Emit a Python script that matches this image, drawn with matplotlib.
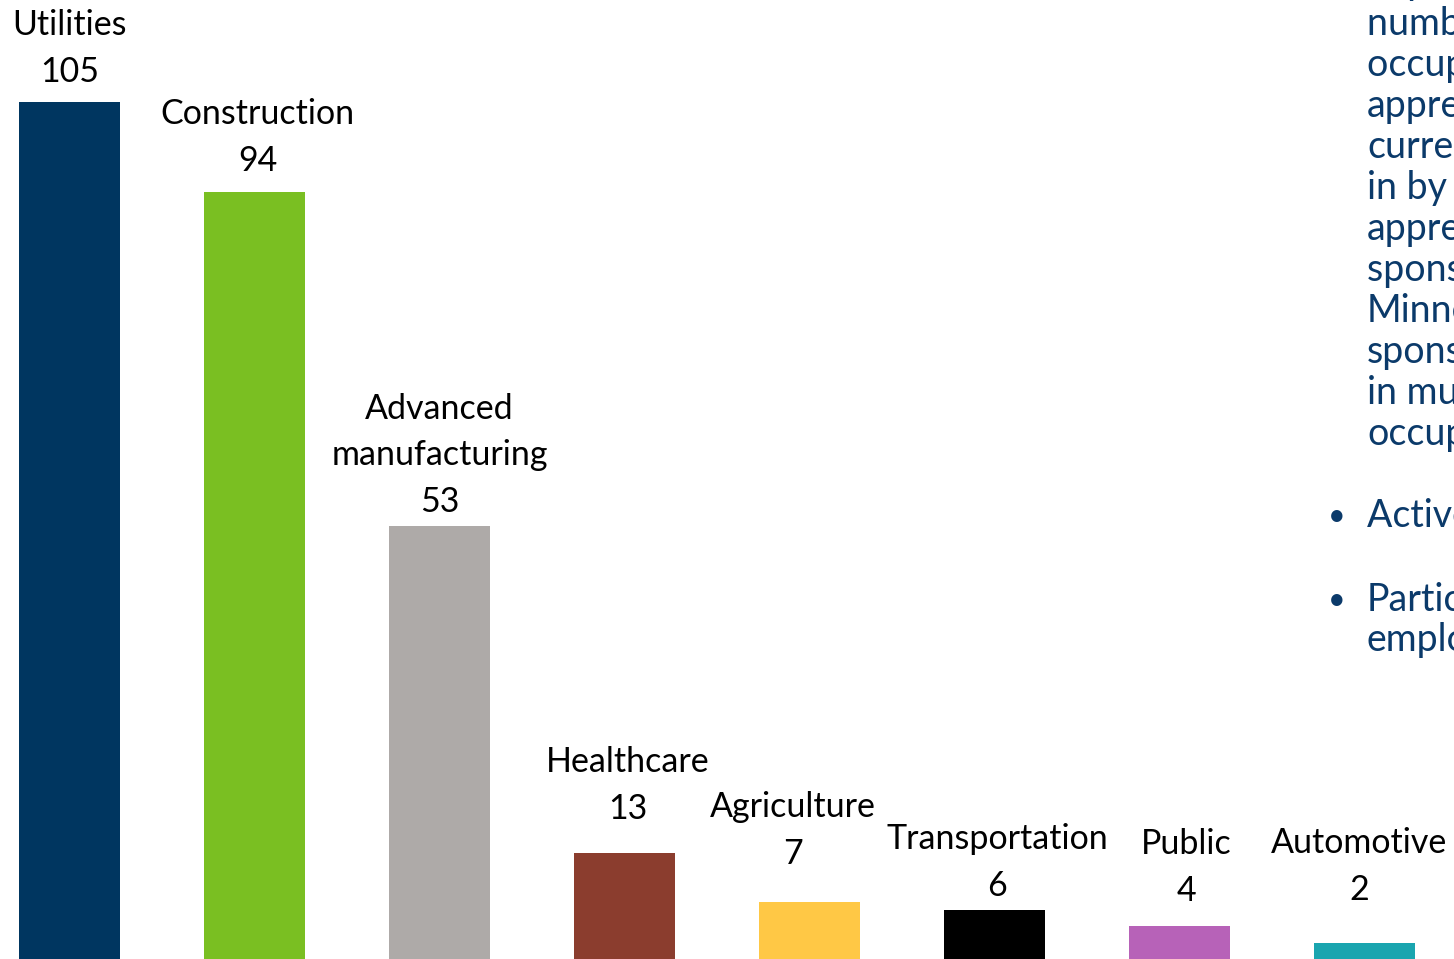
import matplotlib.pyplot as plt

plt.rcParams['font.family'] = ['Lato', 'DejaVu Sans']

# registered apprenticeship programs by industry
industries = ['Utilities', 'Construction', 'Advanced\nmanufacturing', 'Healthcare',
              'Agriculture', 'Transportation', 'Public', 'Automotive']
programs = [105, 94, 53, 13, 7, 6, 4, 2]
bar_colors = ['#003660', '#7abf22', '#aeaaa8', '#8b3d2e',
              '#ffc845', '#000000', '#b762b8', '#1aa5af']

# label nudges (pixels): x shift, height of the value line above the bar
label_dx = [0, 3, 0, 3, -17, 3, 7, -5]
label_dy = [33, 34, 27, 47, 51, 27, 38, 56]

side_lines = ['Expanded the', 'number of', 'occupations for', 'apprentices', 'currently',
              'in by the', 'apprenticeship', 'sponsors across', 'Minnesota', 'sponsors',
              'in multiple', 'occupations']
side_bullets = [['Active apprentices'], ['Participating', 'employers']]

fig = plt.figure(figsize=(14.54, 9.59), dpi=100)
ax = fig.add_axes([0, 0, 1, 1])

x = range(len(industries))
ax.bar(x, programs, width=0.546, color=bar_colors)
ax.set_xlim(-0.3757, 7.4838)
ax.set_ylim(0, 117.5)
ax.axis('off')

fs = 24.5
for i, (name, val) in enumerate(zip(industries, programs)):
    ax.annotate(str(val), xy=(i, val), xytext=(label_dx[i], label_dy[i] - 3),
                textcoords='offset pixels', ha='center', va='center',
                fontsize=fs, color='black')
    ax.annotate(name, xy=(i, val), xytext=(label_dx[i], label_dy[i] + 28),
                textcoords='offset pixels', ha='center', va='bottom',
                fontsize=fs, color='black', linespacing=1.55)

# bulleted notes running off the right edge
navy = '#0b3a6a'
side_fs = 27
line_h = 41
y0 = 959 + 17
for k, line in enumerate(side_lines):
    fig.text(1367 / 1454, (y0 - k * line_h) / 959, line, ha='left', va='center',
             fontsize=side_fs, color=navy)
bullet_y = [516, 600]
for by, bullet in zip(bullet_y, side_bullets):
    fig.text(1337 / 1454, (959 - by) / 959, '\u2022', ha='center', va='center',
             fontsize=22, color=navy)
    for k, line in enumerate(bullet):
        fig.text(1367 / 1454, (959 - by - k * 40) / 959, line, ha='left', va='center',
                 fontsize=side_fs, color=navy)

fig.savefig('out.png', dpi=100)
